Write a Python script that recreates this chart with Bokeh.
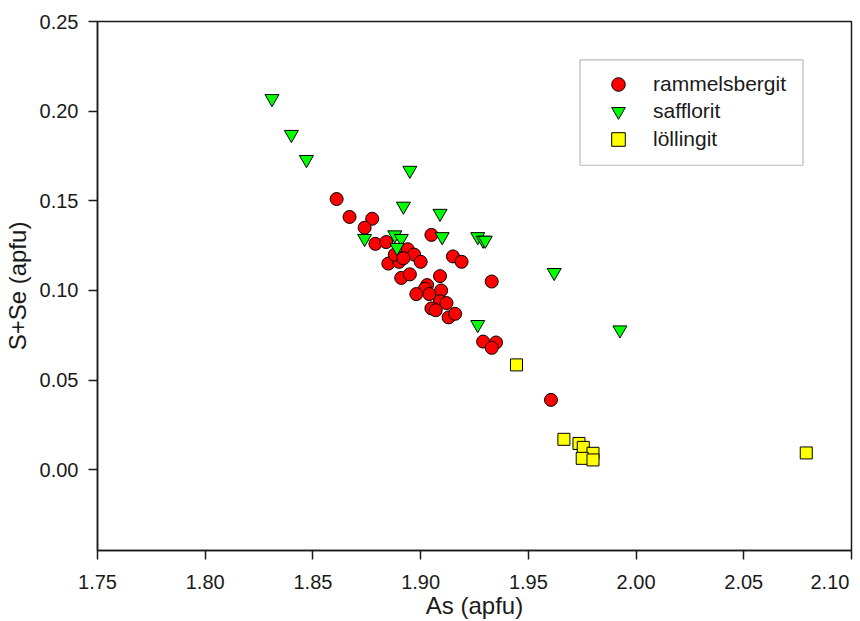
from bokeh.plotting import figure
from bokeh.models import (Legend, LegendItem, FixedTicker, BoxAnnotation,
                          NumeralTickFormatter, Range1d)
from bokeh.embed import file_html
from bokeh.resources import INLINE

# ---------------- data ----------------
ram_x = [1.861, 1.867, 1.8775, 1.874, 1.905, 1.879, 1.884, 1.894, 1.897, 1.900,
         1.885, 1.890, 1.888, 1.892, 1.915, 1.919, 1.891, 1.895, 1.909, 1.933,
         1.903, 1.902, 1.898, 1.9095, 1.904, 1.909, 1.912, 1.905, 1.907, 1.913,
         1.916, 1.929, 1.935, 1.933, 1.9605]
ram_y = [0.151, 0.141, 0.140, 0.135, 0.131, 0.126, 0.127, 0.123, 0.120, 0.116,
         0.115, 0.116, 0.120, 0.118, 0.119, 0.116, 0.107, 0.109, 0.108, 0.105,
         0.103, 0.101, 0.098, 0.100, 0.098, 0.094, 0.093, 0.090, 0.089, 0.085,
         0.087, 0.0715, 0.071, 0.068, 0.039]

saf_x = [1.831, 1.840, 1.847, 1.895, 1.892, 1.909, 1.874, 1.888, 1.891, 1.889,
         1.910, 1.9265, 1.929, 1.930, 1.9265, 1.962, 1.9925]
saf_y = [0.207, 0.187, 0.173, 0.167, 0.147, 0.143, 0.129, 0.131, 0.129, 0.124,
         0.130, 0.130, 0.128, 0.128, 0.081, 0.110, 0.078]

lol_x = [1.9445, 1.9665, 1.9735, 1.9755, 1.980, 1.975, 1.980, 2.079]
lol_y = [0.0585, 0.017, 0.0147, 0.0125, 0.0092, 0.0064, 0.0055, 0.0094]

series_names = ["rammelsbergit", "safflorit", "löllingit"]
x_ticks = [1.75, 1.80, 1.85, 1.90, 1.95, 2.00, 2.05, 2.10]
y_ticks = [0.00, 0.05, 0.10, 0.15, 0.20, 0.25]
x_title = "As (apfu)"
y_title = "S+Se (apfu)"

# ---------------- figure ----------------
FONT = "Liberation Sans"
INK = "#1a1a1a"
X0, X1 = 1.75, 2.10
Y0, Y1 = -0.045, 0.25
W, H = 860, 621
BL, BR, BT, BB = 97, 9, 21, 70
FW, FH = W - BL - BR, H - BT - BB


def px2x(px):
    return X0 + (px - BL) / FW * (X1 - X0)


def py2y(py):
    return Y1 - (py - BT) / FH * (Y1 - Y0)


p = figure(width=W, height=H, output_backend="svg", toolbar_location=None,
           x_range=Range1d(X0, X1), y_range=Range1d(Y0, Y1),
           min_border_left=BL, min_border_right=BR,
           min_border_top=BT, min_border_bottom=BB)
p.background_fill_color = "white"
p.border_fill_color = "white"
p.xgrid.visible = False
p.ygrid.visible = False
p.outline_line_color = INK
p.outline_line_width = 1.5

for ax in (p.xaxis[0], p.yaxis[0]):
    ax.axis_line_color = INK
    ax.axis_line_width = 1.5
    ax.major_tick_line_color = INK
    ax.major_tick_line_width = 1.5
    ax.major_tick_out = 9
    ax.major_tick_in = 0
    ax.minor_tick_line_color = None
    ax.major_label_text_font = FONT
    ax.major_label_text_font_size = "20px"
    ax.major_label_text_color = INK
    ax.formatter = NumeralTickFormatter(format="0.00")
    ax.axis_label_text_font = FONT
    ax.axis_label_text_font_size = "24px"
    ax.axis_label_text_font_style = "normal"
    ax.axis_label_text_color = INK

p.xaxis[0].ticker = FixedTicker(ticks=x_ticks)
p.yaxis[0].ticker = FixedTicker(ticks=y_ticks)
p.xaxis[0].major_label_standoff = 11
p.yaxis[0].major_label_standoff = 10
p.xaxis[0].axis_label = x_title
p.yaxis[0].axis_label = y_title
p.xaxis[0].axis_label_standoff = -4
p.yaxis[0].axis_label_standoff = 6
# the last x label sits pulled left, inside the window, as in the reference
p.xaxis[0].major_label_overrides = {2.1: "2.10" + "\u00a0" * 2}

# ---------------- glyphs ----------------
r1 = p.scatter(ram_x, ram_y, marker="circle", size=13, fill_color="#FF0000",
               line_color="black", line_width=1)
r2 = p.scatter(saf_x, saf_y, marker="inverted_triangle", size=14, fill_color="#00FF00",
               line_color="black", line_width=1)
r3 = p.scatter(lol_x, lol_y, marker="square", size=12, fill_color="#FFFF00",
               line_color="black", line_width=1)

# ---------------- legend: framed box + one row legend per series ----------------
p.add_layout(BoxAnnotation(left=px2x(579.5), right=px2x(802.5),
                           top=py2y(59.5), bottom=py2y(165),
                           fill_color="white", fill_alpha=1,
                           line_color=INK, line_width=1.2))
row_centres = [85, 112.5, 139.5]
for name, rend, c in zip(series_names, [r1, r2, r3], row_centres):
    lg = Legend(items=[LegendItem(label=name, renderers=[rend])],
                location=(491, round(H - BB - (c + 17))))
    lg.border_line_color = None
    lg.background_fill_alpha = 0
    lg.label_text_font = FONT
    lg.label_text_font_size = "21px"
    lg.label_text_color = INK
    lg.glyph_width = 60
    lg.glyph_height = 34
    lg.padding = 0
    lg.spacing = 0
    lg.label_standoff = 5
    lg.label_width = 140
    lg.margin = 0
    p.add_layout(lg)

open("out.html", "w").write(file_html(p, INLINE))
